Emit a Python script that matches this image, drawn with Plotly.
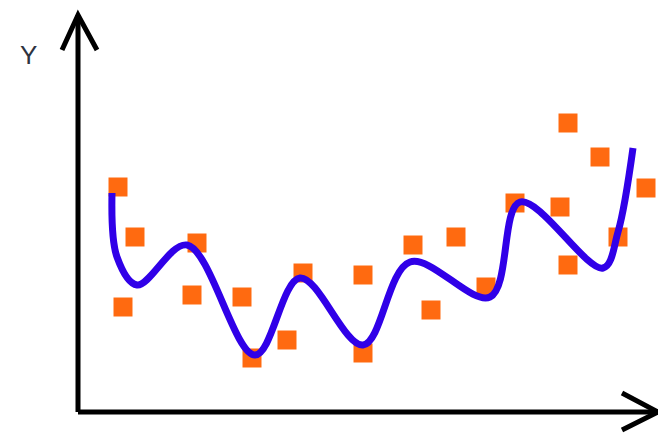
import plotly.graph_objects as go

# Observed data points (arbitrary units, origin at the axes' corner)
point_x = [0.80, 1.14, 0.90, 2.38, 2.28, 3.28, 3.48, 4.18, 4.50, 5.70, 5.70,
           7.06, 6.70, 7.56, 8.16, 8.74, 9.64, 9.80, 9.80, 10.44, 10.80, 11.36]
point_y = [4.50, 3.50, 2.10, 3.38, 2.34, 2.30, 1.08, 1.44, 2.78, 1.18, 2.74,
           2.04, 3.34, 3.50, 2.50, 4.18, 4.10, 2.94, 5.78, 5.10, 3.50, 4.48]

# Over-fitted curve knots
curve_x = [0.68, 0.78, 1.18, 2.18, 3.54, 4.44, 5.70, 6.64, 8.24, 8.84, 10.50, 10.80, 11.10]
curve_y = [4.38, 3.10, 2.54, 3.34, 1.14, 2.68, 1.34, 3.00, 2.30, 4.20, 2.88, 3.60, 5.28]

axis_label = "Y"

fig = go.Figure()
fig.add_trace(go.Scatter(
    x=point_x, y=point_y, mode="markers",
    marker=dict(symbol="square", size=19, color="#ff6a10", line=dict(width=0)),
    showlegend=False,
))
fig.add_trace(go.Scatter(
    x=curve_x, y=curve_y, mode="lines",
    line=dict(color="#3000e8", width=7, shape="spline", smoothing=1.0),
    hoverinfo="skip", showlegend=False,
))

ax_style = dict(color="black", width=5)
shapes = [
    dict(type="line", x0=0, y0=0, x1=0, y1=7.94, line=ax_style, layer="above"),
    dict(type="line", x0=0, y0=0, x1=11.6, y1=0, line=ax_style, layer="above"),
    dict(type="path", path="M -0.32 7.24 L 0 7.94 L 0.38 7.24", line=ax_style, layer="above"),
    dict(type="path", path="M 10.88 0.38 L 11.6 0 L 10.88 -0.36", line=ax_style, layer="above"),
]
for s in shapes:
    s["xref"] = "x"
    s["yref"] = "y"

fig.update_layout(
    width=666, height=440,
    margin=dict(l=0, r=0, t=0, b=0),
    paper_bgcolor="white", plot_bgcolor="white",
    xaxis=dict(range=[-1.40, 11.92], visible=False, fixedrange=True),
    yaxis=dict(range=[-0.72, 8.08], visible=False, fixedrange=True),
    shapes=shapes,
    annotations=[dict(x=-1.0, y=7.14, xref="x", yref="y", text=axis_label,
                      showarrow=False, font=dict(size=26, color="#2e3340", family="Liberation Sans"))],
)
fig.write_html("out.html")
